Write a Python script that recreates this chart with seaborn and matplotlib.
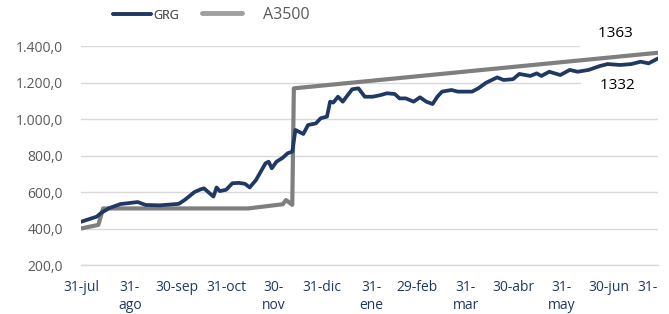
import matplotlib
matplotlib.use("Agg")
import matplotlib.pyplot as plt
import pandas as pd
import seaborn as sns
from matplotlib.lines import Line2D
from matplotlib.ticker import FuncFormatter

# GRG index
grg_dates = [
    "2019-07-31", "2019-08-10", "2019-08-13", "2019-08-18", "2019-08-25",
    "2019-09-05", "2019-09-10", "2019-09-19", "2019-10-01", "2019-10-05",
    "2019-10-11", "2019-10-15", "2019-10-17", "2019-10-23", "2019-10-25",
    "2019-10-27", "2019-10-31", "2019-11-04", "2019-11-08", "2019-11-12",
    "2019-11-15", "2019-11-19", "2019-11-25", "2019-11-27", "2019-11-29",
    "2019-12-02", "2019-12-06", "2019-12-09", "2019-12-12", "2019-12-14",
    "2019-12-19", "2019-12-22", "2019-12-27", "2019-12-30", "2020-01-03",
    "2020-01-05", "2020-01-07", "2020-01-10", "2020-01-13", "2020-01-19",
    "2020-01-23", "2020-01-27", "2020-02-01", "2020-02-06", "2020-02-10",
    "2020-02-15", "2020-02-18", "2020-02-22", "2020-02-27", "2020-03-02",
    "2020-03-06", "2020-03-10", "2020-03-13", "2020-03-16", "2020-03-22",
    "2020-03-26", "2020-04-04", "2020-04-08", "2020-04-13", "2020-04-20",
    "2020-04-24", "2020-04-30", "2020-05-04", "2020-05-11", "2020-05-15",
    "2020-05-18", "2020-05-23", "2020-05-30", "2020-06-05", "2020-06-10",
    "2020-06-17", "2020-06-24", "2020-06-29", "2020-07-07", "2020-07-14",
    "2020-07-20", "2020-07-25", "2020-07-31",
]
grg_values = [
    437, 465, 487, 512, 534,
    545, 529, 527, 535, 558,
    600, 615, 620, 575, 625,
    605, 612, 648, 650, 645,
    625, 666, 757, 766, 730,
    766, 788, 812, 821, 940,
    918, 967, 976, 1004, 1013,
    1095, 1090, 1122, 1095, 1163,
    1168, 1122, 1122, 1131, 1141,
    1137, 1113, 1113, 1095, 1119,
    1095, 1082, 1122, 1150, 1159,
    1150, 1150, 1168, 1199, 1228,
    1214, 1218, 1247, 1236, 1250,
    1236, 1259, 1241, 1269, 1259,
    1269, 1290, 1301, 1296, 1301,
    1314, 1305, 1332,
]

# A3500 exchange rate
a3500_dates = [
    "2019-07-31", "2019-08-11", "2019-08-14", "2019-11-14", "2019-12-06",
    "2019-12-08", "2019-12-12", "2019-12-13", "2020-07-31",
]
a3500_values = [400, 420, 510, 510, 533, 556, 530, 1168, 1363]

tick_dates = [
    "2019-07-31", "2019-08-31", "2019-09-30", "2019-10-31", "2019-11-30",
    "2019-12-31", "2020-01-31", "2020-02-29", "2020-03-31", "2020-04-30",
    "2020-05-31", "2020-06-30", "2020-07-31",
]
tick_labels = [
    "31-jul", "31-\nago", "30-sep", "31-oct", "30-\nnov", "31-dic",
    "31-\nene", "29-feb", "31-\nmar", "30-abr", "31-\nmay", "30-jun", "31-",
]

navy = "#1F3864"
gray = "#7F7F7F"
grid_c = "#D9D9D9"

sns.set_style("white")
plt.rcParams["font.family"] = ["Open Sans", "DejaVu Sans"]

fig = plt.figure(figsize=(6.69, 3.14), dpi=100)
ax = fig.add_axes([0.1211, 0.156, 0.8625, 0.6975])

grg = pd.DataFrame({"date": pd.to_datetime(grg_dates), "value": grg_values})
a35 = pd.DataFrame({"date": pd.to_datetime(a3500_dates), "value": a3500_values})

sns.lineplot(data=a35, x="date", y="value", ax=ax, color=gray, linewidth=3.0, zorder=3)
sns.lineplot(data=grg, x="date", y="value", ax=ax, color=navy, linewidth=2.7, zorder=4)

ax.set_xlim(pd.Timestamp("2019-07-31"), pd.Timestamp("2020-07-31"))
ax.set_ylim(200, 1400)
ax.set_yticks(range(200, 1401, 200))
ax.yaxis.set_major_formatter(FuncFormatter(
    lambda v, p: f"{v:,.1f}".replace(",", "X").replace(".", ",").replace("X", ".")))
ax.set_xticks(pd.to_datetime(tick_dates))
ax.set_xticklabels(tick_labels, linespacing=1.25)
ax.get_xticklabels()[-1].set_horizontalalignment("right")
ax.set_xlabel("")
ax.set_ylabel("")

ax.grid(axis="y", color=grid_c, linewidth=1)
ax.set_axisbelow(True)
for s in ["left", "right", "top"]:
    ax.spines[s].set_visible(False)
ax.spines["bottom"].set_color(grid_c)
ax.spines["bottom"].set_linewidth(1)
ax.tick_params(axis="x", colors=grid_c, length=4, width=1, labelcolor=navy,
               labelsize=10, pad=7)
ax.tick_params(axis="y", length=0, labelcolor="#595959", labelsize=10, pad=13)

# end-value labels, white box hides the gridline behind them
box = dict(facecolor="white", edgecolor="none", boxstyle="square,pad=1.2")
ax.text(pd.Timestamp("2020-06-23"), 1471, "1363   ", fontsize=11, color="black",
        va="center", ha="left", bbox=box, zorder=1.5)
ax.text(pd.Timestamp("2020-06-24"), 1186, "1332   ", fontsize=11, color="black",
        va="center", ha="left", bbox=box, zorder=1.5)

leg1 = fig.legend(handles=[Line2D([], [], color=navy, linewidth=2.6)], labels=["GRG"],
                  loc="center left", bbox_to_anchor=(113 / 669, 0.952),
                  frameon=False, fontsize=9, handlelength=3.0, handletextpad=0.25,
                  borderpad=0, borderaxespad=0, labelcolor="#595959")
leg2 = fig.legend(handles=[Line2D([], [], color="#A0A0A0", linewidth=3.5)], labels=["A3500"],
                  loc="center left", bbox_to_anchor=(202 / 669, 0.952),
                  frameon=False, fontsize=11.5, handlelength=2.5, handletextpad=1.3,
                  borderpad=0, borderaxespad=0, labelcolor="#595959")
fig.add_artist(leg1)

fig.savefig("out.png", dpi=100)
